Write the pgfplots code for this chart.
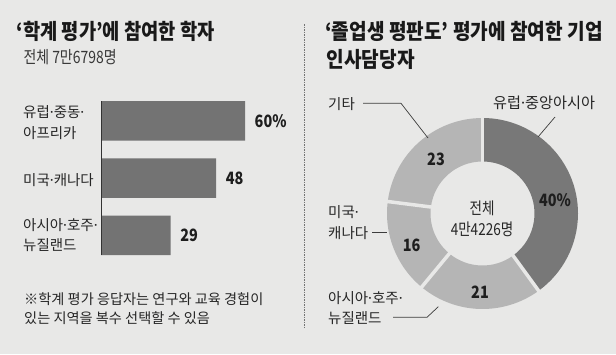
\documentclass[border=0pt]{standalone}
\usepackage{fontspec}
\setmainfont{Noto Sans CJK KR}
\newfontfamily\krc[FakeStretch=0.82]{Noto Sans CJK KR}
\newfontfamily\krt[FakeStretch=0.87]{Noto Sans CJK KR}
\newfontfamily\krtr[FakeStretch=0.89]{Noto Sans CJK KR}
\newfontfamily\krn[FakeStretch=0.85]{Noto Sans CJK KR}
\newfontfamily\latinf{Noto Sans}
\newcommand\md{{\latinf ·}}
\usepackage{pgfplots}
\pgfplotsset{compat=1.18}
\usepackage{pgfplotstable}
\definecolor{bgc}{RGB}{232,232,231}
\definecolor{bardark}{RGB}{115,115,115}
\definecolor{segdark}{RGB}{120,120,120}
\definecolor{seglight}{RGB}{181,181,181}
\definecolor{txt}{RGB}{30,30,30}
\definecolor{ldr}{RGB}{60,60,60}

\pgfplotstableread{
region value
EuropeCentralAsia 40
AsiaOceania 21
NorthAmerica 16
Other 23
}\donutdata

\begin{document}
\pgfplotstablegetelem{0}{value}\of\donutdata \pgfmathsetmacro\eA{90-3.6*\pgfplotsretval}%
\pgfplotstablegetelem{1}{value}\of\donutdata \pgfmathsetmacro\eB{\eA-3.6*\pgfplotsretval}%
\pgfplotstablegetelem{2}{value}\of\donutdata \pgfmathsetmacro\eC{\eB-3.6*\pgfplotsretval}%
\pgfplotstablegetelem{3}{value}\of\donutdata \pgfmathsetmacro\eD{\eC-3.6*\pgfplotsretval}%
\begin{tikzpicture}
\fill[bgc] (0pt,0pt) rectangle (616pt,-354pt);

% ---------- left panel: bars ----------
\begin{axis}[at={(101pt,-92.3pt)}, anchor=north west, scale only axis,
  width=240pt, height=171.6pt, xmin=0, xmax=100, ymin=-0.5, ymax=2.5,
  y dir=reverse, hide axis, clip=false,
  xbar, bar width=39.5pt, bar shift=0pt,
  point meta=explicit symbolic,
  nodes near coords={\pgfplotspointmeta},
  nodes near coords align=horizontal,
  every node near coord/.append style={anchor=west, inner sep=0pt, xshift=9.5pt,
     font=\krn\bfseries\fontsize{17}{20}\selectfont, text=txt}]
\addplot[fill=bardark, draw=none] coordinates {(60,0) [60\%] (48,1) [48] (29,2) [29]};
\draw[black!80, line width=0.9pt] (axis cs:0,-0.345) -- (axis cs:0,2.345);
\end{axis}

% ---------- right panel: donut ----------
\begin{axis}[at={(482.5pt,-213.5pt)}, anchor=center, scale only axis,
  width=191pt, height=191pt, xmin=-1, xmax=1, ymin=-1, ymax=1,
  hide axis, clip=false]
\fill[segdark] (axis cs:0,0) ++(90:95.5pt) arc[start angle=90, end angle=\eA, radius=95.5pt]
   -- ++(\eA:-43.5pt) arc[start angle=\eA, end angle=90, radius=52pt] -- cycle;
\fill[seglight] (axis cs:0,0) ++(\eA:95.5pt) arc[start angle=\eA, end angle=\eB, radius=95.5pt]
   -- ++(\eB:-43.5pt) arc[start angle=\eB, end angle=\eA, radius=52pt] -- cycle;
\fill[seglight] (axis cs:0,0) ++(\eB:95.5pt) arc[start angle=\eB, end angle=\eC, radius=95.5pt]
   -- ++(\eC:-43.5pt) arc[start angle=\eC, end angle=\eB, radius=52pt] -- cycle;
\fill[seglight] (axis cs:0,0) ++(\eC:95.5pt) arc[start angle=\eC, end angle=\eD, radius=95.5pt]
   -- ++(\eD:-43.5pt) arc[start angle=\eD, end angle=\eC, radius=52pt] -- cycle;
\draw[bgc, line width=3.5pt] (axis cs:0,0) ++(90:49pt) -- ++(90:50pt);
\draw[bgc, line width=3.5pt] (axis cs:0,0) ++(\eA:49pt) -- ++(\eA:50pt);
\draw[bgc, line width=3.5pt] (axis cs:0,0) ++(\eB:49pt) -- ++(\eB:50pt);
\draw[bgc, line width=3.5pt] (axis cs:0,0) ++(\eC:49pt) -- ++(\eC:50pt);
\end{axis}

\begin{scope}[x=1pt,y=1pt]
% titles
\node[anchor=west, inner sep=0pt, font=\krt\bfseries\fontsize{21.5}{24}\selectfont, text=black!90] at (16.5,-31.7) {‘학계 평가’에 참여한 학자};
\node[anchor=west, inner sep=0pt, font=\krc\fontsize{17}{19}\selectfont, text=black!78] at (23.3,-57.5) {전체 7만6798명};
\node[anchor=west, inner sep=0pt, font=\krtr\bfseries\fontsize{21.5}{24}\selectfont, text=black!90] at (325,-31) {‘졸업생 평판도’ 평가에 참여한 기업};
\node[anchor=west, inner sep=0pt, font=\krtr\bfseries\fontsize{21.5}{24}\selectfont, text=black!90] at (326.5,-59.5) {인사담당자};

% left category labels
\begin{scope}[every node/.style={anchor=west, inner sep=0pt, font=\fontsize{14.5}{16}\selectfont, text=black!85}]
\node at (23,-111.7) {유럽\md 중동\md};
\node at (23,-133.3) {아프리카};
\node at (23,-180) {미국\md 캐나다};
\node at (23,-225) {아시아\md 호주\md};
\node at (23,-245.5) {뉴질랜드};
\node[font=\fontsize{14.2}{16}\selectfont] at (24,-299) {※학계 평가 응답자는 연구와 교육 경험이};
\node[font=\fontsize{14.2}{16}\selectfont] at (24,-318) {있는 지역을 복수 선택할 수 있음};
% right labels
\node[font=\fontsize{15.2}{17}\selectfont] at (493,-103.3) {유럽\md 중앙아시아};
\node at (328,-104.5) {기타};
\node at (328,-212) {미국\md};
\node at (328,-233.5) {캐나다};
\node at (328,-298.5) {아시아\md 호주\md};
\node at (328,-318.5) {뉴질랜드};
\end{scope}

% donut values
\begin{scope}[every node/.style={anchor=center, inner sep=0pt, font=\krn\bfseries\fontsize{17}{20}\selectfont, text=txt}]
\node at (436,-159) {23};
\node at (555,-200) {40\%};
\node at (411.7,-245.5) {16};
\node at (480,-292.5) {21};
\end{scope}
\node[anchor=center, inner sep=0pt, font=\krc\fontsize{16.5}{19}\selectfont, text=black!85] at (482,-208.5) {전체};
\node[anchor=center, inner sep=0pt, font=\krc\fontsize{16.5}{19}\selectfont, text=black!85] at (482,-229) {4만4226명};

% leader lines
\draw[ldr, line width=0.7pt] (538,-137) -- (555,-117);
\draw[ldr, line width=0.7pt] (363,-103.3) -- (401,-103.3) -- (428,-138);
\draw[ldr, line width=0.7pt] (372,-232.5) -- (387,-232.5);
\draw[ldr, line width=0.7pt] (393,-317.3) -- (427,-317.3) -- (438.3,-306.7);

% separator
\draw[black!55, line width=1.2pt, dash pattern=on 1.5pt off 1pt] (304.7,-24) -- (304.7,-327);
\end{scope}

\pgfresetboundingbox
\path[use as bounding box] (0pt,0pt) rectangle (616pt,-354pt);
\end{tikzpicture}
\end{document}
